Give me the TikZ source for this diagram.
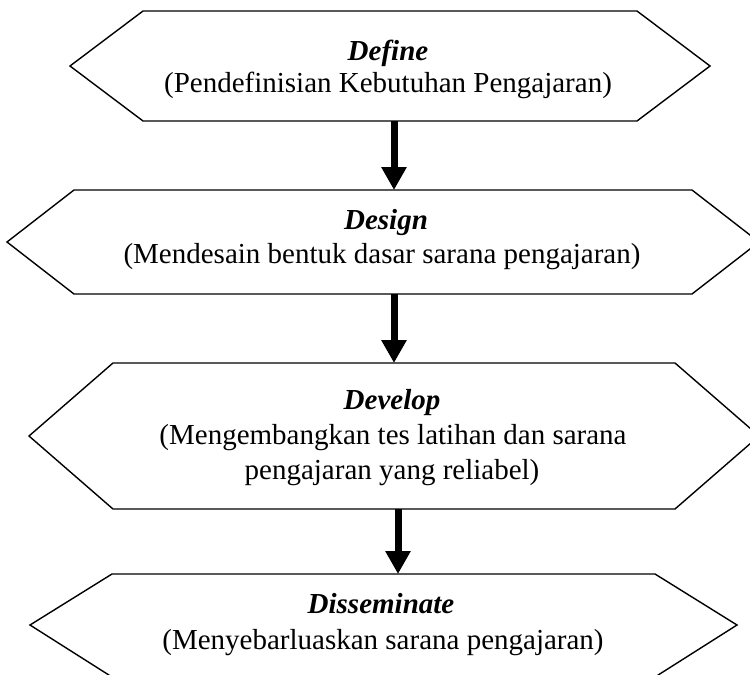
\documentclass[tikz,border=0pt]{standalone}
\usepackage{fontspec}
\setmainfont{Liberation Serif}
\usetikzlibrary{arrows.meta}
\begin{document}
\begin{tikzpicture}[x=1pt,y=-1pt,
  hex/.style={draw=black, line width=1.4pt, line join=miter},
  ttl/.style={anchor=base, inner sep=0pt, font=\fontsize{29}{33}\selectfont\bfseries\itshape},
  sub/.style={anchor=base, inner sep=0pt, font=\fontsize{29}{33}\selectfont},
  flow/.style={line width=7pt, -{Triangle[length=23pt,width=24pt]}}]
\useasboundingbox (0,0) rectangle (750,675);
\clip (0,0) rectangle (750,675);
% Define
\coordinate (h1t) at (394,11);
\coordinate (h1b) at (394,121);
\draw[hex] (70,66) -- (143,11) -- (637,11) -- (710,66) -- (637,121) -- (143,121) -- cycle;
\node[ttl] (t1) at (388,60) {Define};
\node[sub] (s1) at (388,92) {(Pendefinisian Kebutuhan Pengajaran)};
% Design
\coordinate (h2t) at (394,190);
\coordinate (h2b) at (394,294);
\draw[hex] (7,242) -- (74,190) -- (692,190) -- (759,242) -- (692,294) -- (74,294) -- cycle;
\node[ttl] (t2) at (386,229) {Design};
\node[sub] (s2) at (382,263) {(Mendesain bentuk dasar sarana pengajaran)};
% Develop
\coordinate (h3t) at (394,363);
\coordinate (h3b) at (398,509);
\draw[hex] (29,436) -- (113,363) -- (675,363) -- (759,436) -- (675,509) -- (113,509) -- cycle;
\node[ttl] (t3) at (392,409) {Develop};
\node[sub] (s3a) at (393,444) {(Mengembangkan tes latihan dan sarana};
\node[sub] (s3b) at (392,479) {pengajaran yang reliabel)};
% Disseminate
\coordinate (h4t) at (398,574);
\draw[hex] (30,625) -- (112,574) -- (655,574) -- (737,625) -- (655,677) -- (112,677) -- cycle;
\node[ttl] (t4) at (381,613) {Disseminate};
\node[sub] (s4) at (383,649) {(Menyebarluaskan sarana pengajaran)};
% connectors
\draw[flow] (h1b) -- (h2t);
\draw[flow] (h2b) -- (h3t);
\draw[flow] (h3b) -- (h4t);
\end{tikzpicture}
\end{document}
